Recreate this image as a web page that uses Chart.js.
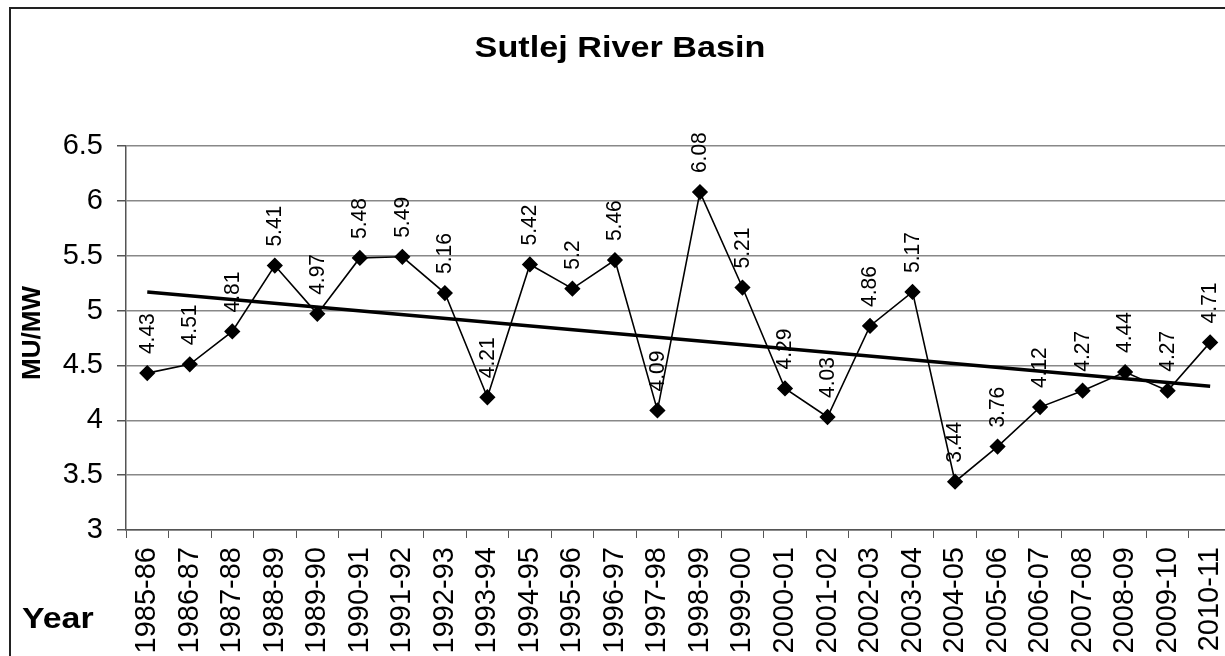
<!DOCTYPE html>
<html>
<head>
<meta charset="utf-8">
<script src="https://cdn.jsdelivr.net/npm/chart.js@4"></script>
<style>
    body { margin: 0; overflow: hidden; background: #fff; }
    #frame {
        position: absolute; left: 9px; top: 7px;
        width: 1240px; height: 700px;
        border: 2px solid #222;
    }
    #myChart { position: absolute; left: 0; top: 0; }
</style>
</head>
<body>
<div id="frame"></div>
<canvas id="myChart" width="1240" height="656"></canvas>
<script>
const years = ["1985-86", "1986-87", "1987-88", "1988-89", "1989-90", "1990-91", "1991-92",
    "1992-93", "1993-94", "1994-95", "1995-96", "1996-97", "1997-98", "1998-99", "1999-00",
    "2000-01", "2001-02", "2002-03", "2003-04", "2004-05", "2005-06", "2006-07", "2007-08",
    "2008-09", "2009-10", "2010-11"];
const muPerMw = [4.43, 4.51, 4.81, 5.41, 4.97, 5.48, 5.49, 5.16, 4.21, 5.42, 5.2, 5.46, 4.09,
    6.08, 5.21, 4.29, 4.03, 4.86, 5.17, 3.44, 3.76, 4.12, 4.27, 4.44, 4.27, 4.71];
// trend line ends (first and last year)
const trendEnds = [5.17, 4.31];
const yTicks = [3, 3.5, 4, 4.5, 5, 5.5, 6, 6.5];

const FONT = "'Liberation Sans', Arial, sans-serif";

window.onload = () => {
    const trendData = years.map((y, i) => {
        if (i === 0) return trendEnds[0];
        if (i === years.length - 1) return trendEnds[1];
        return null;
    });

    // draws the rotated value labels, the title and the axis captions
    const textPlugin = {
        id: "textPlugin",
        afterDatasetsDraw(chart) {
            const ctx = chart.ctx;
            const meta = chart.getDatasetMeta(0);
            ctx.save();
            ctx.fillStyle = "#000";
            ctx.font = "21px " + FONT;
            ctx.textAlign = "left";
            ctx.textBaseline = "middle";
            meta.data.forEach((pt, i) => {
                ctx.save();
                ctx.translate(pt.x, pt.y - 19);
                ctx.scale(1.08, 1);
                ctx.rotate(-Math.PI / 2);
                ctx.fillText(String(muPerMw[i]), 0, 0);
                ctx.restore();
            });

            ctx.save();
            ctx.translate(620, 49);
            ctx.scale(1.14, 1);
            ctx.textAlign = "center";
            ctx.font = "bold 30px " + FONT;
            ctx.fillText("Sutlej River Basin", 0, 0);
            ctx.restore();

            ctx.save();
            ctx.translate(22, 620);
            ctx.scale(1.13, 1);
            ctx.font = "bold 30px " + FONT;
            ctx.textAlign = "left";
            ctx.fillText("Year", 0, 0);
            ctx.restore();

            ctx.save();
            ctx.translate(33, 333);
            ctx.rotate(-Math.PI / 2);
            ctx.textAlign = "center";
            ctx.font = "bold 26px " + FONT;
            ctx.fillText("MU/MW", 0, 0);
            ctx.restore();
            ctx.restore();
        },
    };

    const config = {
        type: "line",
        data: {
            labels: years,
            datasets: [
                {
                    label: "MU/MW",
                    data: muPerMw,
                    borderColor: "#000",
                    backgroundColor: "#000",
                    borderWidth: 1.6,
                    pointStyle: "rectRot",
                    pointRadius: 7,
                    pointBackgroundColor: "#000",
                    pointBorderColor: "#000",
                    tension: 0,
                },
                {
                    label: "Trend",
                    data: trendData,
                    borderColor: "#000",
                    borderWidth: 3.5,
                    pointRadius: 0,
                    spanGaps: true,
                    tension: 0,
                },
            ],
        },
        options: {
            responsive: false,
            animation: false,
            layout: { padding: { left: 0, right: 6, top: 146, bottom: 0 } },
            plugins: {
                legend: { display: false },
                title: { display: false },
                tooltip: { enabled: false },
            },
            scales: {
                x: {
                    offset: true,
                    afterFit(scale) {
                        scale.height = 126;
                        scale.paddingLeft = 0;
                        scale.paddingRight = 0;
                    },
                    grid: {
                        offset: true,
                        drawOnChartArea: false,
                        drawTicks: true,
                        tickLength: 8,
                        color: "#555",
                    },
                    border: { color: "#555", width: 1.5 },
                    ticks: {
                        minRotation: 90,
                        maxRotation: 90,
                        autoSkip: false,
                        padding: 9,
                        color: "#000",
                        font: { family: FONT, size: 29 },
                    },
                },
                y: {
                    min: 3,
                    max: 6.5,
                    afterFit(scale) { scale.width = 126; },
                    afterBuildTicks(scale) {
                        scale.ticks = yTicks.map((v) => ({ value: v }));
                    },
                    grid: {
                        color: "#888",
                        lineWidth: 1.5,
                        tickLength: 9,
                        tickColor: "#555",
                    },
                    border: { color: "#555", width: 1.5 },
                    ticks: {
                        padding: 14,
                        color: "#000",
                        font: { family: FONT, size: 29 },
                        callback: (v) => String(v),
                    },
                },
            },
        },
        plugins: [textPlugin],
    };

    new Chart(document.getElementById("myChart"), config);
};
</script>
</body>
</html>
